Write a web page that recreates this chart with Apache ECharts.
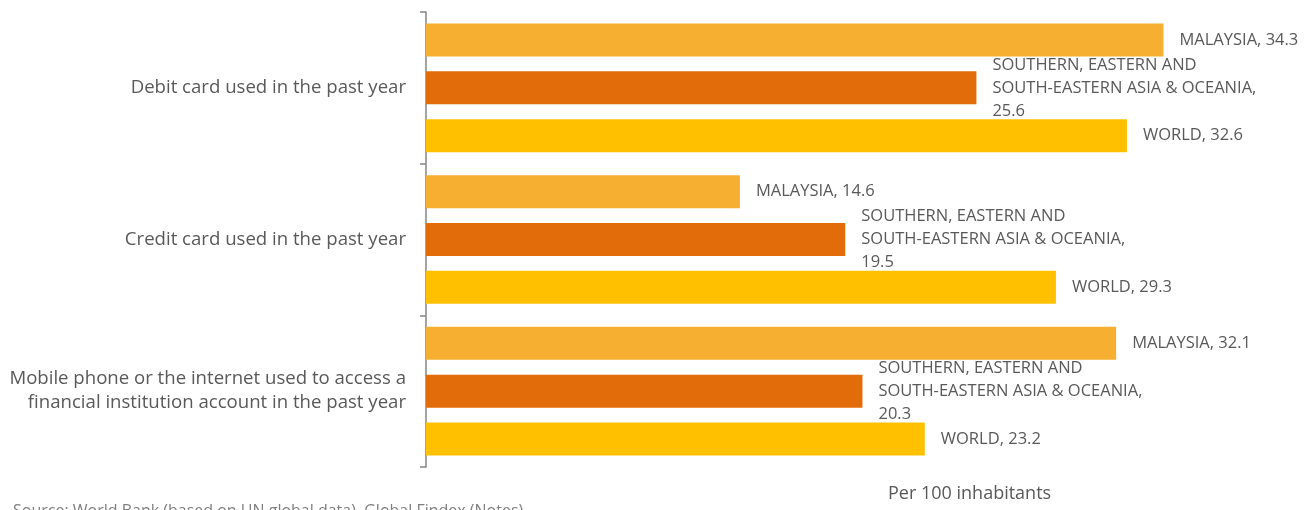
<!DOCTYPE html>
<html>
<head>
<meta charset="utf-8">
<script src="https://cdn.jsdelivr.net/npm/echarts@6/dist/echarts.min.js"></script>
<style>
  html, body { margin: 0; padding: 0; background: #fff; }
  #chartDiv { width: 1306px; height: 510px; }
</style>
</head>
<body>
<div id="chartDiv"></div>
<script>
var categories = [
  "Debit card used in the past year",
  "Credit card used in the past year",
  "Mobile phone or the internet used to access a\nfinancial institution account in the past year"
];
var seriesNames = ["MALAYSIA", "SOUTHERN, EASTERN AND\nSOUTH-EASTERN ASIA & OCEANIA", "WORLD"];
var malaysia = [34.3, 14.6, 32.1];
var southernAsia = [25.6, 19.5, 20.3];
var world = [32.6, 29.3, 23.2];
var colors = ["#F7AF31", "#E36C0A", "#FFC000"];

var chartDiv = document.getElementById("chartDiv");
var myChart = echarts.init(chartDiv);

function makeSeries(idx, data) {
  return {
    name: seriesNames[idx],
    type: "bar",
    data: data,
    barWidth: 33,
    barGap: "45%",
    itemStyle: { color: colors[idx] },
    label: {
      show: true,
      position: "right",
      distance: 16,
      color: "#595959",
      fontFamily: "Open Sans",
      fontSize: 16.5,
      lineHeight: 23,
      formatter: function (p) {
        // the long region name wraps, so its value goes on a line of its own
        var sep = p.seriesName.indexOf("\n") >= 0 ? ",\n" : ", ";
        return p.seriesName + sep + p.value;
      }
    }
  };
}

var option = {
  animation: false,
  grid: { left: 426, right: 20, top: 12, bottom: 43 },
  title: [
    {
      text: "Per 100 inhabitants",
      left: 883, top: 480,
      textStyle: { fontFamily: "Open Sans", fontSize: 18, fontWeight: "normal", color: "#595959" }
    },
    {
      text: "Source: World Bank (based on UN global data), Global Findex (Notes)",
      left: 8, top: 498,
      textStyle: { fontFamily: "Open Sans", fontSize: 16, fontWeight: "normal", color: "#7f7f7f" }
    }
  ],
  xAxis: {
    type: "value",
    min: 0,
    max: 40,
    show: false
  },
  yAxis: {
    type: "category",
    data: categories,
    inverse: true,
    axisLine: { lineStyle: { color: "#868686", width: 1.5 } },
    axisTick: { show: true, inside: false, length: 6, lineStyle: { color: "#868686", width: 1.5 } },
    axisLabel: {
      margin: 20,
      color: "#595959",
      fontFamily: "Open Sans",
      fontSize: 18.6,
      lineHeight: 24,
      align: "right"
    }
  },
  series: [makeSeries(0, malaysia), makeSeries(1, southernAsia), makeSeries(2, world)]
};

myChart.setOption(option);
</script>
</body>
</html>
